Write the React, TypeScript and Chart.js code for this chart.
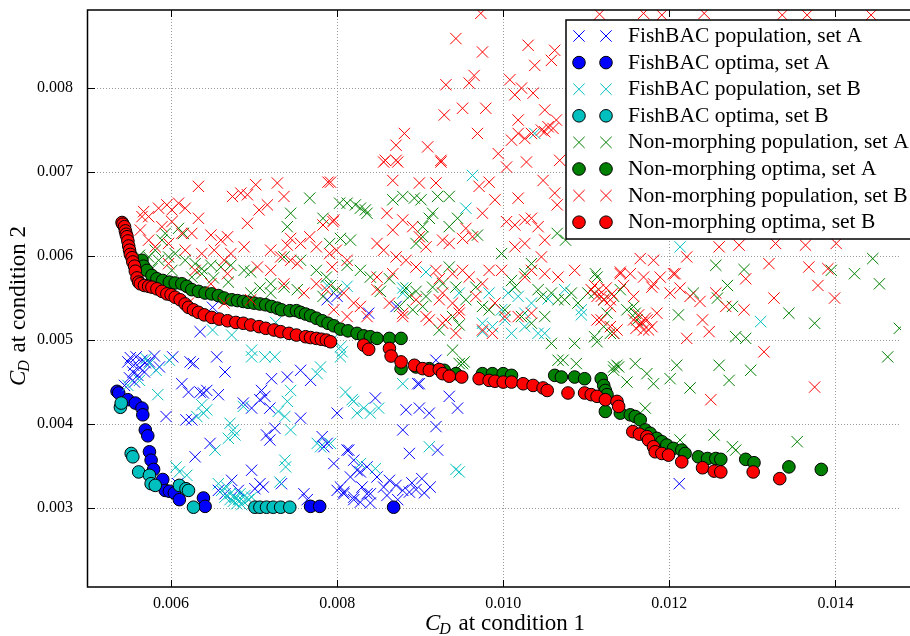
import React, { useEffect, useRef } from 'react';
import { Chart, registerables } from 'chart.js';

Chart.register(...registerables);

// ---------- axes ----------
const X_MIN = 0.005;
const X_MAX = 0.01479;
const Y_MIN = 0.00206;
const Y_MAX = 0.00893;
const xTicks = [0.006, 0.008, 0.01, 0.012, 0.014];
const xTickLabels = ['0.006', '0.008', '0.010', '0.012', '0.014'];
const yTicks = [0.003, 0.004, 0.005, 0.006, 0.007, 0.008];
const yTickLabels = ['0.003', '0.004', '0.005', '0.006', '0.007', '0.008'];
const xTitleRest = ' at condition 1';
const yTitleRest = ' at condition 2';
const titleSymbol = 'C';
const titleSub = 'D';

const seriesLabels = [
  'FishBAC population, set A',
  'FishBAC optima, set A',
  'FishBAC population, set B',
  'FishBAC optima, set B',
  'Non-morphing population, set A',
  'Non-morphing optima, set A',
  'Non-morphing population, set B',
  'Non-morphing optima, set B',
];

// ---------- data ----------
const fishbacPopA: [number, number][] = [
  [0.00548, 0.00474], [0.00551, 0.00479], [0.00555, 0.0047], [0.00558, 0.0048], [0.00562, 0.00467],
  [0.00565, 0.00476], [0.00569, 0.00473], [0.00554, 0.00462], [0.0056, 0.00458], [0.0055, 0.00455],
  [0.00568, 0.00462], [0.00574, 0.00474], [0.00544, 0.00446], [0.00556, 0.0045], [0.0058, 0.00481],
  [0.00586, 0.00468], [0.00602, 0.0048], [0.00623, 0.00474], [0.00627, 0.00472], [0.00655, 0.0048],
  [0.00665, 0.00462], [0.00613, 0.00448], [0.00621, 0.00438], [0.00635, 0.00438], [0.00639, 0.00437],
  [0.00643, 0.0044], [0.00657, 0.00435], [0.00687, 0.00425], [0.00707, 0.00429], [0.00713, 0.00433],
  [0.00721, 0.00454], [0.0074, 0.00456], [0.00756, 0.00464], [0.00768, 0.00452], [0.00697, 0.00419],
  [0.00719, 0.00419], [0.00594, 0.00409], [0.00618, 0.00405], [0.00625, 0.00405], [0.00756, 0.00407],
  [0.00709, 0.0044], [0.00647, 0.00377], [0.00629, 0.00361], [0.00715, 0.00387], [0.00719, 0.00381],
  [0.00725, 0.00395], [0.00782, 0.00385], [0.00784, 0.00373], [0.00796, 0.00353], [0.00697, 0.00345],
  [0.00707, 0.00329], [0.00711, 0.00325], [0.00701, 0.00323], [0.00733, 0.00329], [0.0076, 0.00317],
  [0.00764, 0.0031], [0.00814, 0.00369], [0.00816, 0.00337], [0.00824, 0.00345], [0.0083, 0.00325],
  [0.00808, 0.00319], [0.0082, 0.0031], [0.00836, 0.00317], [0.0084, 0.00306], [0.00804, 0.00325],
  [0.00673, 0.00333], [0.00665, 0.00317], [0.00657, 0.00321], [0.00681, 0.00321], [0.00608, 0.00329],
  [0.00899, 0.00448], [0.00935, 0.00433], [0.00945, 0.00419], [0.00846, 0.00431], [0.00883, 0.00417],
  [0.00899, 0.00419], [0.00911, 0.00413], [0.00919, 0.00397], [0.00879, 0.00393], [0.00887, 0.00365],
  [0.00921, 0.00369], [0.008, 0.00413], [0.00788, 0.00377], [0.00812, 0.00369], [0.0082, 0.00357],
  [0.00828, 0.00343], [0.00836, 0.00349], [0.00848, 0.00337], [0.00856, 0.00325], [0.00863, 0.00333],
  [0.00871, 0.00327], [0.00879, 0.00321], [0.00887, 0.00319], [0.00808, 0.00317], [0.0082, 0.00313],
  [0.00828, 0.00307], [0.0084, 0.00317], [0.0086, 0.00315], [0.00873, 0.0031], [0.008, 0.00321],
  [0.00919, 0.00476], [0.00897, 0.00448], [0.00871, 0.0054], [0.00838, 0.00532], [0.01212, 0.00329],
  [0.00635, 0.0051], [0.0065, 0.00539], [0.00788, 0.00548], [0.008, 0.00552], [0.00895, 0.00322],
  [0.00905, 0.00318], [0.00912, 0.00325], [0.0089, 0.0033], [0.00902, 0.00335],
];

const fishbacOptA: [number, number][] = [
  [0.00535, 0.00439], [0.00537, 0.00437], [0.00548, 0.00429], [0.00557, 0.00425], [0.00565, 0.00419],
  [0.00566, 0.00411], [0.00569, 0.00393], [0.00572, 0.00386], [0.00574, 0.00367], [0.00576, 0.00357],
  [0.00579, 0.00346], [0.0059, 0.00334], [0.00593, 0.00321], [0.00598, 0.0032], [0.00604, 0.00318],
  [0.0061, 0.0031], [0.00639, 0.00312], [0.00641, 0.00302], [0.00768, 0.00302], [0.00779, 0.00302],
  [0.00868, 0.00301],
];

const fishbacPopB: [number, number][] = [
  [0.0057, 0.00478], [0.00574, 0.00472], [0.00582, 0.00464], [0.00598, 0.00476], [0.00584, 0.00435],
  [0.00548, 0.00446], [0.00562, 0.00452], [0.00637, 0.00423], [0.00639, 0.00413], [0.00643, 0.00417],
  [0.00631, 0.00409], [0.00653, 0.00369], [0.00606, 0.00349], [0.0061, 0.00343], [0.00619, 0.00339],
  [0.00671, 0.00401], [0.00675, 0.00393], [0.00677, 0.00387], [0.00669, 0.00383], [0.00687, 0.00421],
  [0.00729, 0.00415], [0.00737, 0.00409], [0.0074, 0.00427], [0.00744, 0.0044], [0.00744, 0.00393],
  [0.00737, 0.00357], [0.00738, 0.00349], [0.00731, 0.00331], [0.00776, 0.00377], [0.0078, 0.00373],
  [0.00792, 0.00377], [0.00776, 0.0046], [0.0078, 0.00468], [0.00697, 0.00488], [0.00697, 0.0048],
  [0.00713, 0.0048], [0.00725, 0.0048], [0.0081, 0.00438], [0.0082, 0.00427], [0.00832, 0.00419],
  [0.00824, 0.00413], [0.0084, 0.00413], [0.00657, 0.00329], [0.00661, 0.00321], [0.00667, 0.00325],
  [0.00671, 0.00317], [0.00677, 0.00313], [0.00681, 0.0031], [0.00687, 0.00308], [0.00693, 0.0031],
  [0.00689, 0.00315], [0.00675, 0.00308], [0.00697, 0.00313], [0.00683, 0.00317], [0.00665, 0.00313],
  [0.00679, 0.00305], [0.00685, 0.00304], [0.00671, 0.0031], [0.00806, 0.00486], [0.00804, 0.0048],
  [0.00818, 0.00429], [0.0085, 0.00419], [0.00879, 0.00448], [0.00911, 0.00373], [0.00947, 0.00343],
  [0.00828, 0.00353], [0.00846, 0.00347], [0.00963, 0.00696], [0.00955, 0.00657], [0.00907, 0.00581],
  [0.00879, 0.00562], [0.00812, 0.00564], [0.00947, 0.00556], [0.00983, 0.00556], [0.00975, 0.0051],
  [0.00987, 0.00516], [0.01002, 0.00524], [0.0101, 0.00508], [0.01026, 0.00532], [0.01034, 0.00544],
  [0.01018, 0.00552], [0.0105, 0.00508], [0.01094, 0.0053], [0.00804, 0.00492], [0.00788, 0.00565],
  [0.00794, 0.005], [0.01038, 0.00746], [0.01213, 0.00611], [0.0131, 0.00522], [0.00879, 0.00556],
  [0.01026, 0.00516], [0.01042, 0.00508], [0.00975, 0.0052], [0.00998, 0.00536], [0.01006, 0.00556],
  [0.01094, 0.00536], [0.00943, 0.00346], [0.01054, 0.00549], [0.01074, 0.0056], [0.0065, 0.00512],
  [0.00673, 0.00506], [0.00726, 0.00521],
];

const fishbacOptB: [number, number][] = [
  [0.00539, 0.0042], [0.0054, 0.00425], [0.00552, 0.00365], [0.00554, 0.00361], [0.00561, 0.00343],
  [0.00574, 0.00339], [0.00576, 0.00329], [0.00581, 0.00327], [0.0061, 0.00327], [0.00618, 0.00323],
  [0.00621, 0.00321], [0.00627, 0.00301], [0.00701, 0.00301], [0.00707, 0.00301], [0.00715, 0.00301],
  [0.00723, 0.00301], [0.00732, 0.00301], [0.00743, 0.00301],
];

const nonMorphPopA: [number, number][] = [
  [0.00593, 0.00627], [0.00589, 0.00619], [0.00609, 0.00633], [0.00615, 0.00627], [0.00581, 0.00607],
  [0.00573, 0.00599], [0.00585, 0.00595], [0.00597, 0.00599], [0.00605, 0.00603], [0.00617, 0.00595],
  [0.00629, 0.00591], [0.00637, 0.00585], [0.00648, 0.00589], [0.0066, 0.00587], [0.00672, 0.00589],
  [0.00688, 0.00583], [0.00696, 0.00581], [0.00637, 0.00579], [0.00625, 0.00575], [0.00601, 0.00583],
  [0.00577, 0.00585], [0.00568, 0.00593], [0.00562, 0.00601], [0.0072, 0.00567], [0.00736, 0.00563],
  [0.00752, 0.0056], [0.00744, 0.00651], [0.0074, 0.00635], [0.00767, 0.00669], [0.00783, 0.00645],
  [0.00791, 0.00615], [0.00803, 0.00663], [0.00736, 0.00599], [0.00756, 0.00595], [0.00775, 0.00583],
  [0.00787, 0.00575], [0.00799, 0.0056], [0.00783, 0.00552], [0.0072, 0.00556], [0.00696, 0.00556],
  [0.00707, 0.00562], [0.00651, 0.00574], [0.00669, 0.00569], [0.00822, 0.00661], [0.00828, 0.00657],
  [0.00834, 0.00655], [0.00836, 0.00651], [0.00812, 0.00663], [0.00867, 0.00667], [0.00879, 0.00671],
  [0.00893, 0.00669], [0.00901, 0.00667], [0.00921, 0.00671], [0.00935, 0.00671], [0.00915, 0.00651],
  [0.00911, 0.00645], [0.00903, 0.00635], [0.00935, 0.00635], [0.00945, 0.00645], [0.00969, 0.00625],
  [0.00804, 0.00621], [0.00816, 0.00619], [0.00895, 0.00615], [0.00903, 0.00623], [0.00935, 0.00587],
  [0.00812, 0.00589], [0.00828, 0.00583], [0.0084, 0.00575], [0.00852, 0.00558], [0.00863, 0.00573],
  [0.00883, 0.00562], [0.00887, 0.00552], [0.00895, 0.00558], [0.00907, 0.00552], [0.00915, 0.00563],
  [0.00927, 0.00567], [0.00943, 0.00563], [0.00955, 0.00548], [0.00967, 0.00563], [0.00975, 0.0054],
  [0.00983, 0.00536], [0.00939, 0.00528], [0.00947, 0.00518], [0.00923, 0.00512], [0.00903, 0.0054],
  [0.00875, 0.0054], [0.00891, 0.00536], [0.00998, 0.00603], [0.0101, 0.00571], [0.01014, 0.00563],
  [0.01026, 0.00579], [0.01034, 0.00591], [0.01042, 0.0056], [0.01046, 0.00552], [0.01058, 0.00556],
  [0.01066, 0.00548], [0.01074, 0.00548], [0.01082, 0.00556], [0.0109, 0.00544], [0.01102, 0.00556],
  [0.01113, 0.00575], [0.0111, 0.00556], [0.01121, 0.00548], [0.01133, 0.00552], [0.01141, 0.0056],
  [0.01002, 0.00536], [0.01022, 0.00528], [0.01034, 0.0052], [0.0105, 0.00528], [0.01058, 0.00496],
  [0.01086, 0.00496], [0.01113, 0.00498], [0.01121, 0.00516], [0.01129, 0.00508], [0.01137, 0.0047],
  [0.01066, 0.00476], [0.00939, 0.00488], [0.00951, 0.00472], [0.00792, 0.00565], [0.00947, 0.00472],
  [0.00953, 0.00474], [0.01072, 0.00476], [0.01088, 0.00472], [0.01133, 0.00468], [0.01111, 0.00579],
  [0.01125, 0.00532], [0.01149, 0.00536], [0.01157, 0.0054], [0.01159, 0.00532], [0.01161, 0.00524],
  [0.0111, 0.00504], [0.01133, 0.00508], [0.01256, 0.00589], [0.0129, 0.00584], [0.0127, 0.00565],
  [0.01258, 0.0055], [0.01211, 0.0053], [0.01229, 0.00556], [0.01276, 0.0054], [0.0128, 0.00504],
  [0.01292, 0.00502], [0.01344, 0.00532], [0.01375, 0.0052], [0.01395, 0.00583], [0.01423, 0.00579],
  [0.01445, 0.00597], [0.01453, 0.00567], [0.01477, 0.00514], [0.01463, 0.0048], [0.01133, 0.00464],
  [0.01139, 0.00468], [0.01159, 0.00472], [0.01173, 0.0046], [0.01181, 0.00448], [0.01149, 0.0045],
  [0.01171, 0.00419], [0.01201, 0.00454], [0.01209, 0.0047], [0.01225, 0.00443], [0.0126, 0.0047],
  [0.01272, 0.00452], [0.01298, 0.00464], [0.01254, 0.00387], [0.01276, 0.00373], [0.01354, 0.00379],
  [0.01213, 0.00381], [0.0128, 0.00369], [0.01065, 0.00627], [0.01075, 0.00619],
];

const nonMorphOptA: [number, number][] = [
  [0.00565, 0.00595], [0.00567, 0.00588], [0.00571, 0.00583], [0.00577, 0.00577], [0.00583, 0.00573],
  [0.0059, 0.00571], [0.00598, 0.00569], [0.00605, 0.00568], [0.00613, 0.00567], [0.00619, 0.00564],
  [0.00625, 0.0056], [0.00633, 0.00558], [0.00641, 0.00556], [0.00649, 0.00555], [0.00657, 0.00553],
  [0.00664, 0.0055], [0.00673, 0.00548], [0.0068, 0.00547], [0.00687, 0.00546], [0.00693, 0.00545],
  [0.007, 0.00544], [0.00707, 0.00543], [0.00714, 0.00542], [0.00721, 0.0054], [0.00728, 0.00538],
  [0.00733, 0.00536], [0.00743, 0.00535], [0.00751, 0.00535], [0.00756, 0.00533], [0.00762, 0.00531],
  [0.00768, 0.00529], [0.00775, 0.00526], [0.00782, 0.00523], [0.00789, 0.0052], [0.00796, 0.00517],
  [0.00804, 0.00513], [0.00813, 0.00511], [0.00824, 0.00508], [0.00832, 0.00505], [0.0084, 0.00504],
  [0.00848, 0.00502], [0.00863, 0.00502], [0.00877, 0.00502], [0.00877, 0.00466], [0.00895, 0.00468],
  [0.00911, 0.00466], [0.00929, 0.00464], [0.00943, 0.0046], [0.00975, 0.0046], [0.00987, 0.0046],
  [0.01, 0.0046], [0.0101, 0.00458], [0.01062, 0.00458], [0.0107, 0.00456], [0.01086, 0.00456],
  [0.01098, 0.00454], [0.01118, 0.00454], [0.01121, 0.00446], [0.01123, 0.0044], [0.01125, 0.00435],
  [0.01123, 0.00415], [0.01141, 0.00413], [0.01153, 0.00411], [0.01159, 0.00409], [0.01165, 0.00405],
  [0.01171, 0.00393], [0.01177, 0.00389], [0.01185, 0.00383], [0.01191, 0.00379], [0.01197, 0.00375],
  [0.01205, 0.00371], [0.01215, 0.00369], [0.01219, 0.00365], [0.01235, 0.00361], [0.01246, 0.00359],
  [0.01256, 0.00359], [0.01262, 0.00358], [0.01292, 0.00358], [0.01302, 0.00354], [0.01344, 0.00349],
  [0.01383, 0.00346],
];

const nonMorphPopB: [number, number][] = [
  [0.00633, 0.00683], [0.00674, 0.00671], [0.00684, 0.00675], [0.00692, 0.00673], [0.00702, 0.00685],
  [0.00728, 0.00687], [0.00736, 0.00671], [0.00789, 0.00688], [0.00567, 0.00653], [0.00573, 0.00647],
  [0.00585, 0.00657], [0.00595, 0.00661], [0.00601, 0.00655], [0.00609, 0.00663], [0.00617, 0.00657],
  [0.00633, 0.00645], [0.00601, 0.00641], [0.00589, 0.00635], [0.00613, 0.00627], [0.00625, 0.00627],
  [0.00648, 0.00625], [0.0066, 0.00619], [0.00668, 0.00623], [0.00692, 0.00639], [0.00706, 0.00655],
  [0.00716, 0.00661], [0.00573, 0.00619], [0.00581, 0.00611], [0.00597, 0.00615], [0.00617, 0.00607],
  [0.00637, 0.00603], [0.00652, 0.00607], [0.00664, 0.00595], [0.00672, 0.00603], [0.00688, 0.00611],
  [0.0072, 0.00607], [0.00732, 0.00599], [0.0074, 0.00613], [0.00744, 0.00621], [0.00756, 0.00615],
  [0.00767, 0.00623], [0.00775, 0.00611], [0.00791, 0.00603], [0.00799, 0.00607], [0.00783, 0.00637],
  [0.00795, 0.00641], [0.00597, 0.00591], [0.00629, 0.00583], [0.00648, 0.00567], [0.00668, 0.00579],
  [0.00704, 0.00587], [0.0072, 0.00583], [0.00744, 0.00595], [0.00752, 0.00591], [0.00736, 0.00567],
  [0.0076, 0.00556], [0.00775, 0.00567], [0.00787, 0.0056], [0.00696, 0.00548], [0.00664, 0.00544],
  [0.00621, 0.00544], [0.00565, 0.00647], [0.00563, 0.00631], [0.00856, 0.00712], [0.00873, 0.00712],
  [0.00925, 0.00712], [0.01004, 0.00706], [0.01028, 0.00712], [0.00792, 0.00688], [0.00867, 0.0069],
  [0.00899, 0.00687], [0.00919, 0.00687], [0.00971, 0.00683], [0.00983, 0.00688], [0.0099, 0.00667],
  [0.01018, 0.00669], [0.01048, 0.0069], [0.01062, 0.00675], [0.00796, 0.00643], [0.0086, 0.00651],
  [0.00879, 0.00643], [0.00891, 0.00635], [0.00867, 0.00631], [0.00848, 0.00615], [0.00856, 0.00607],
  [0.00871, 0.00599], [0.00883, 0.00595], [0.00899, 0.00623], [0.00907, 0.00611], [0.00927, 0.00619],
  [0.00935, 0.00615], [0.00951, 0.00621], [0.00963, 0.00623], [0.00955, 0.00633], [0.00975, 0.00651],
  [0.01004, 0.00641], [0.01014, 0.00637], [0.01026, 0.00643], [0.01034, 0.00645], [0.01042, 0.00635],
  [0.01026, 0.00615], [0.01014, 0.00611], [0.0105, 0.00619], [0.00794, 0.00587], [0.00812, 0.00595],
  [0.00848, 0.00575], [0.00867, 0.00579], [0.00895, 0.00587], [0.00919, 0.00583], [0.00923, 0.00573],
  [0.00939, 0.00579], [0.00951, 0.00583], [0.00959, 0.00575], [0.00975, 0.00567], [0.00983, 0.00583],
  [0.00927, 0.00556], [0.00923, 0.00548], [0.00939, 0.00544], [0.00947, 0.00536], [0.00907, 0.00528],
  [0.00931, 0.00524], [0.00879, 0.00528], [0.00836, 0.00528], [0.00812, 0.00528], [0.00796, 0.00536],
  [0.0082, 0.00544], [0.00998, 0.00583], [0.01026, 0.00575], [0.01034, 0.00583], [0.0105, 0.00579],
  [0.01066, 0.00575], [0.01086, 0.00583], [0.01106, 0.0056], [0.01113, 0.00552], [0.01121, 0.00548],
  [0.01129, 0.0054], [0.01113, 0.00524], [0.01129, 0.00516], [0.01137, 0.00512], [0.01141, 0.00579],
  [0.01046, 0.00599], [0.0099, 0.00544], [0.01002, 0.00528], [0.01018, 0.00528], [0.01034, 0.00532],
  [0.00987, 0.00508], [0.00973, 0.00889], [0.00943, 0.00859], [0.00975, 0.00843], [0.0103, 0.00851],
  [0.00931, 0.00804], [0.00959, 0.00806], [0.00965, 0.00815], [0.01008, 0.0081], [0.01022, 0.008],
  [0.01014, 0.00792], [0.01036, 0.00794], [0.01038, 0.00827], [0.01058, 0.00833], [0.01062, 0.00845],
  [0.00929, 0.00768], [0.00951, 0.00776], [0.00979, 0.00776], [0.00969, 0.00746], [0.01018, 0.00762],
  [0.0105, 0.00774], [0.00881, 0.00746], [0.00871, 0.00732], [0.00909, 0.0073], [0.00858, 0.00714],
  [0.00871, 0.00714], [0.00925, 0.00714], [0.00994, 0.00722], [0.0101, 0.00738], [0.01018, 0.00746],
  [0.01026, 0.0074], [0.01034, 0.00746], [0.01046, 0.0075], [0.01054, 0.00754], [0.0106, 0.00752],
  [0.0105, 0.00748], [0.01165, 0.00597], [0.01181, 0.00595], [0.01141, 0.00581], [0.01153, 0.00579],
  [0.01169, 0.00575], [0.01181, 0.00567], [0.01189, 0.00575], [0.01205, 0.00579], [0.01118, 0.00552],
  [0.01129, 0.00548], [0.01118, 0.00524], [0.01133, 0.00508], [0.01157, 0.00524], [0.01165, 0.00518],
  [0.01169, 0.00512], [0.01173, 0.00524], [0.01179, 0.00516], [0.01185, 0.00532], [0.01201, 0.00556],
  [0.01213, 0.00562], [0.01225, 0.00552], [0.01237, 0.00546], [0.01256, 0.00556], [0.01268, 0.0054],
  [0.0124, 0.00524], [0.01248, 0.0051], [0.01221, 0.00502], [0.0129, 0.00536], [0.01326, 0.0055],
  [0.01314, 0.00486], [0.0125, 0.00429], [0.01375, 0.00444], [0.01399, 0.0055], [0.01379, 0.00565],
  [0.01368, 0.00587], [0.01391, 0.00585], [0.0132, 0.00591], [0.01292, 0.00573], [0.0126, 0.00611],
  [0.01284, 0.00613], [0.01328, 0.00615], [0.01364, 0.00613], [0.01401, 0.00615], [0.01221, 0.00599],
  [0.01207, 0.00579], [0.01157, 0.00552], [0.01179, 0.00563], [0.01145, 0.00565], [0.01116, 0.00888],
  [0.01169, 0.00889], [0.01191, 0.00887], [0.01242, 0.00889], [0.01336, 0.00887], [0.01366, 0.00887],
  [0.01443, 0.00887], [0.01064, 0.00762], [0.01068, 0.00714], [0.01065, 0.00661], [0.01163, 0.0053],
  [0.01171, 0.00526], [0.01167, 0.00521], [0.01175, 0.00512], [0.0116, 0.00514], [0.0111, 0.00565],
  [0.01115, 0.0056], [0.01124, 0.00562], [0.01131, 0.00555], [0.00808, 0.00556], [0.00828, 0.0054],
  [0.00848, 0.0056], [0.00863, 0.00544], [0.00879, 0.00532], [0.00895, 0.00548], [0.00911, 0.00524],
  [0.00927, 0.0052], [0.00943, 0.00508], [0.00947, 0.00532], [0.00967, 0.00552], [0.00975, 0.00512],
];

const nonMorphOptB: [number, number][] = [
  [0.00541, 0.0064], [0.00542, 0.00638], [0.00544, 0.00635], [0.00545, 0.0063], [0.00546, 0.00626],
  [0.00547, 0.00623], [0.00548, 0.00618], [0.00549, 0.00612], [0.0055, 0.00607], [0.00551, 0.00602],
  [0.00553, 0.00598], [0.00554, 0.00593], [0.00556, 0.00588], [0.00557, 0.00582], [0.00559, 0.00574],
  [0.00561, 0.00569], [0.00563, 0.00567], [0.00568, 0.00565], [0.00573, 0.00564], [0.00577, 0.00563],
  [0.00583, 0.00561], [0.00589, 0.00558], [0.00595, 0.00555], [0.006, 0.00554], [0.00605, 0.00551],
  [0.00611, 0.00548], [0.00617, 0.00543], [0.00621, 0.00539], [0.00627, 0.00536], [0.00633, 0.00533],
  [0.0064, 0.0053], [0.00649, 0.00527], [0.00658, 0.00525], [0.00668, 0.00523], [0.00678, 0.00521],
  [0.00687, 0.0052], [0.00696, 0.00518], [0.00706, 0.00516], [0.00714, 0.00514], [0.00724, 0.00512],
  [0.00732, 0.0051], [0.00742, 0.00508], [0.00751, 0.00506], [0.00762, 0.00504], [0.00768, 0.00503],
  [0.00775, 0.00502], [0.00781, 0.00501], [0.00787, 0.005], [0.00792, 0.00498], [0.00832, 0.00494],
  [0.00838, 0.00489], [0.00863, 0.0049], [0.00865, 0.00481], [0.00877, 0.00474], [0.00893, 0.0047],
  [0.00903, 0.00466], [0.00911, 0.00464], [0.00923, 0.00465], [0.00927, 0.0046], [0.00935, 0.00457],
  [0.0095, 0.00456], [0.00971, 0.00454], [0.00983, 0.00452], [0.0099, 0.00451], [0.01, 0.0045],
  [0.0101, 0.0045], [0.01024, 0.00448], [0.01036, 0.00446], [0.01048, 0.00443], [0.01053, 0.0044],
  [0.01078, 0.00437], [0.01098, 0.00437], [0.01106, 0.00435], [0.01113, 0.00433], [0.01123, 0.00429],
  [0.01137, 0.00427], [0.01139, 0.00421], [0.01156, 0.00391], [0.01164, 0.00388], [0.01173, 0.00385],
  [0.01175, 0.00381], [0.01181, 0.00373], [0.01183, 0.00367], [0.01191, 0.00365], [0.01199, 0.00363],
  [0.01215, 0.00355], [0.0124, 0.00348], [0.01254, 0.00344], [0.01262, 0.00343], [0.01301, 0.00343],
  [0.01333, 0.00335],
];

const seriesData = [
  fishbacPopA, fishbacOptA, fishbacPopB, fishbacOptB,
  nonMorphPopA, nonMorphOptA, nonMorphPopB, nonMorphOptB,
];
const seriesColors = ['#0000ff', '#0000ff', '#00bfbf', '#00bfbf', '#008000', '#008000', '#ff0000', '#ff0000'];
const seriesIsCross = [true, false, true, false, true, false, true, false];

const SERIF = '"Liberation Serif", "Times New Roman", serif';
const CROSS_R = 8;
const CIRCLE_R = 6.3;

function drawCross(ctx: CanvasRenderingContext2D, x: number, y: number, color: string) {
  const h = CROSS_R * Math.SQRT1_2;
  ctx.save();
  ctx.strokeStyle = color;
  ctx.lineWidth = 1;
  ctx.beginPath();
  ctx.moveTo(x - h, y - h);
  ctx.lineTo(x + h, y + h);
  ctx.moveTo(x - h, y + h);
  ctx.lineTo(x + h, y - h);
  ctx.stroke();
  ctx.restore();
}

function drawCircle(ctx: CanvasRenderingContext2D, x: number, y: number, color: string) {
  ctx.save();
  ctx.fillStyle = color;
  ctx.strokeStyle = '#000';
  ctx.lineWidth = 1;
  ctx.beginPath();
  ctx.arc(x, y, CIRCLE_R, 0, Math.PI * 2);
  ctx.fill();
  ctx.stroke();
  ctx.restore();
}

function drawMathTitle(ctx: CanvasRenderingContext2D, cx: number, cy: number, rest: string, size: number) {
  const fMain = `${size}px ${SERIF}`;
  const fIt = `italic ${size}px ${SERIF}`;
  const fSub = `italic ${Math.round(size * 0.7)}px ${SERIF}`;
  ctx.font = fIt;
  const wC = ctx.measureText(titleSymbol).width;
  ctx.font = fSub;
  const wD = ctx.measureText(titleSub).width;
  ctx.font = fMain;
  const wR = ctx.measureText(rest).width;
  const total = wC + wD + wR + 1;
  const x0 = cx - total / 2;
  const base = cy + size * 0.33;
  ctx.fillStyle = '#000';
  ctx.textBaseline = 'alphabetic';
  ctx.textAlign = 'left';
  ctx.font = fIt;
  ctx.fillText(titleSymbol, x0, base);
  ctx.font = fSub;
  ctx.fillText(titleSub, x0 + wC - 1, base + size * 0.2);
  ctx.font = fMain;
  ctx.fillText(rest, x0 + wC + wD + 1, base);
}

const decorPlugin = {
  id: 'decor',
  beforeDatasetsDraw(chart: any) {
    const { ctx, chartArea: a, scales } = chart;
    const xs = scales.x;
    const ys = scales.y;
    ctx.save();
    ctx.strokeStyle = '#9a9a9a';
    ctx.lineWidth = 1;
    ctx.setLineDash([1, 2]);
    ctx.beginPath();
    for (const v of xTicks) {
      const px = Math.round(xs.getPixelForValue(v)) + 0.5;
      ctx.moveTo(px, a.top);
      ctx.lineTo(px, a.bottom);
    }
    for (const v of yTicks) {
      const py = Math.round(ys.getPixelForValue(v)) + 0.5;
      ctx.moveTo(a.left, py);
      ctx.lineTo(a.right, py);
    }
    ctx.stroke();
    ctx.restore();
  },
  afterDraw(chart: any) {
    const { ctx, chartArea: a, scales } = chart;
    const xs = scales.x;
    const ys = scales.y;
    ctx.save();
    // frame
    ctx.strokeStyle = '#000';
    ctx.lineWidth = 1.5;
    ctx.strokeRect(a.left - 0.5, a.top, a.right - a.left + 20, a.bottom - a.top);
    // inward ticks
    ctx.lineWidth = 1;
    ctx.beginPath();
    const tl = 7;
    for (const v of xTicks) {
      const px = Math.round(xs.getPixelForValue(v)) + 0.5;
      ctx.moveTo(px, a.bottom);
      ctx.lineTo(px, a.bottom - tl);
      ctx.moveTo(px, a.top);
      ctx.lineTo(px, a.top + tl);
    }
    for (const v of yTicks) {
      const py = Math.round(ys.getPixelForValue(v)) + 0.5;
      ctx.moveTo(a.left, py);
      ctx.lineTo(a.left + tl, py);
    }
    ctx.stroke();

    // axis titles
    drawMathTitle(ctx, 505, 622, xTitleRest, 23);
    ctx.save();
    ctx.translate(17, 306);
    ctx.rotate(-Math.PI / 2);
    drawMathTitle(ctx, 0, 0, yTitleRest, 23);
    ctx.restore();

    // legend
    const lx = 566;
    const ly = 20;
    const lh = 219;
    ctx.fillStyle = '#fff';
    ctx.fillRect(lx, ly, 400, lh);
    ctx.strokeStyle = '#000';
    ctx.lineWidth = 1.5;
    ctx.strokeRect(lx, ly, 400, lh);
    ctx.font = `21.5px ${SERIF}`;
    ctx.textBaseline = 'alphabetic';
    ctx.textAlign = 'left';
    seriesLabels.forEach((label, i) => {
      const ry = 36 + i * 26.6;
      const col = seriesColors[i];
      for (const mx of [579, 606]) {
        if (seriesIsCross[i]) drawCross(ctx, mx, ry, col);
        else drawCircle(ctx, mx, ry, col);
      }
      ctx.fillStyle = '#000';
      ctx.fillText(label, 628, ry + 6);
    });
    ctx.restore();
  },
};

export default function App() {
  const canvasRef = useRef<HTMLCanvasElement | null>(null);

  useEffect(() => {
    if (!canvasRef.current) return;
    const datasets = seriesData.map((pts, i) => ({
      label: seriesLabels[i],
      data: pts.map(([x, y]) => ({ x, y })),
      showLine: false,
      pointStyle: seriesIsCross[i] ? 'crossRot' : 'circle',
      pointRadius: seriesIsCross[i] ? CROSS_R : CIRCLE_R,
      pointHoverRadius: seriesIsCross[i] ? CROSS_R : CIRCLE_R,
      pointBorderWidth: 1,
      pointBackgroundColor: seriesColors[i],
      pointBorderColor: seriesIsCross[i] ? seriesColors[i] : '#000000',
      backgroundColor: seriesColors[i],
      borderColor: seriesIsCross[i] ? seriesColors[i] : '#000000',
      order: seriesData.length - 1 - i,
      clip: 0,
    }));

    const chart = new Chart(canvasRef.current, {
      type: 'scatter',
      data: { datasets } as any,
      options: {
        responsive: false,
        animation: false,
        events: [],
        layout: { padding: { top: 10, right: 0, bottom: 0, left: 0 } },
        plugins: { legend: { display: false }, tooltip: { enabled: false } },
        scales: {
          x: {
            type: 'linear',
            min: X_MIN,
            max: X_MAX,
            grid: { display: false, drawTicks: false },
            border: { display: false },
            ticks: {
              color: '#000',
              font: { family: SERIF, size: 16 },
              padding: 7,
              maxRotation: 0,
              autoSkip: false,
              callback: (_v: any, i: number) => xTickLabels[i],
            },
            afterBuildTicks: (s: any) => {
              s.ticks = xTicks.map((v) => ({ value: v }));
            },
            afterFit: (s: any) => {
              s.height = 49;
              s.paddingLeft = 0;
              s.paddingRight = 0;
              s.paddingTop = 0;
              s.paddingBottom = 0;
            },
          },
          y: {
            type: 'linear',
            min: Y_MIN,
            max: Y_MAX,
            grid: { display: false, drawTicks: false },
            border: { display: false },
            ticks: {
              color: '#000',
              font: { family: SERIF, size: 16 },
              padding: 15,
              autoSkip: false,
              callback: (_v: any, i: number) => yTickLabels[i],
            },
            afterBuildTicks: (s: any) => {
              s.ticks = yTicks.map((v) => ({ value: v }));
            },
            afterFit: (s: any) => {
              s.width = 88;
              s.paddingLeft = 0;
              s.paddingRight = 0;
              s.paddingTop = 0;
              s.paddingBottom = 0;
            },
          },
        },
      } as any,
      plugins: [decorPlugin],
    });
    return () => chart.destroy();
  }, []);

  return (
    <div style={{ position: 'absolute', left: 0, top: 0, width: 910, height: 636, background: '#fff' }}>
      <canvas ref={canvasRef} width={910} height={636} style={{ display: 'block' }} />
    </div>
  );
}
